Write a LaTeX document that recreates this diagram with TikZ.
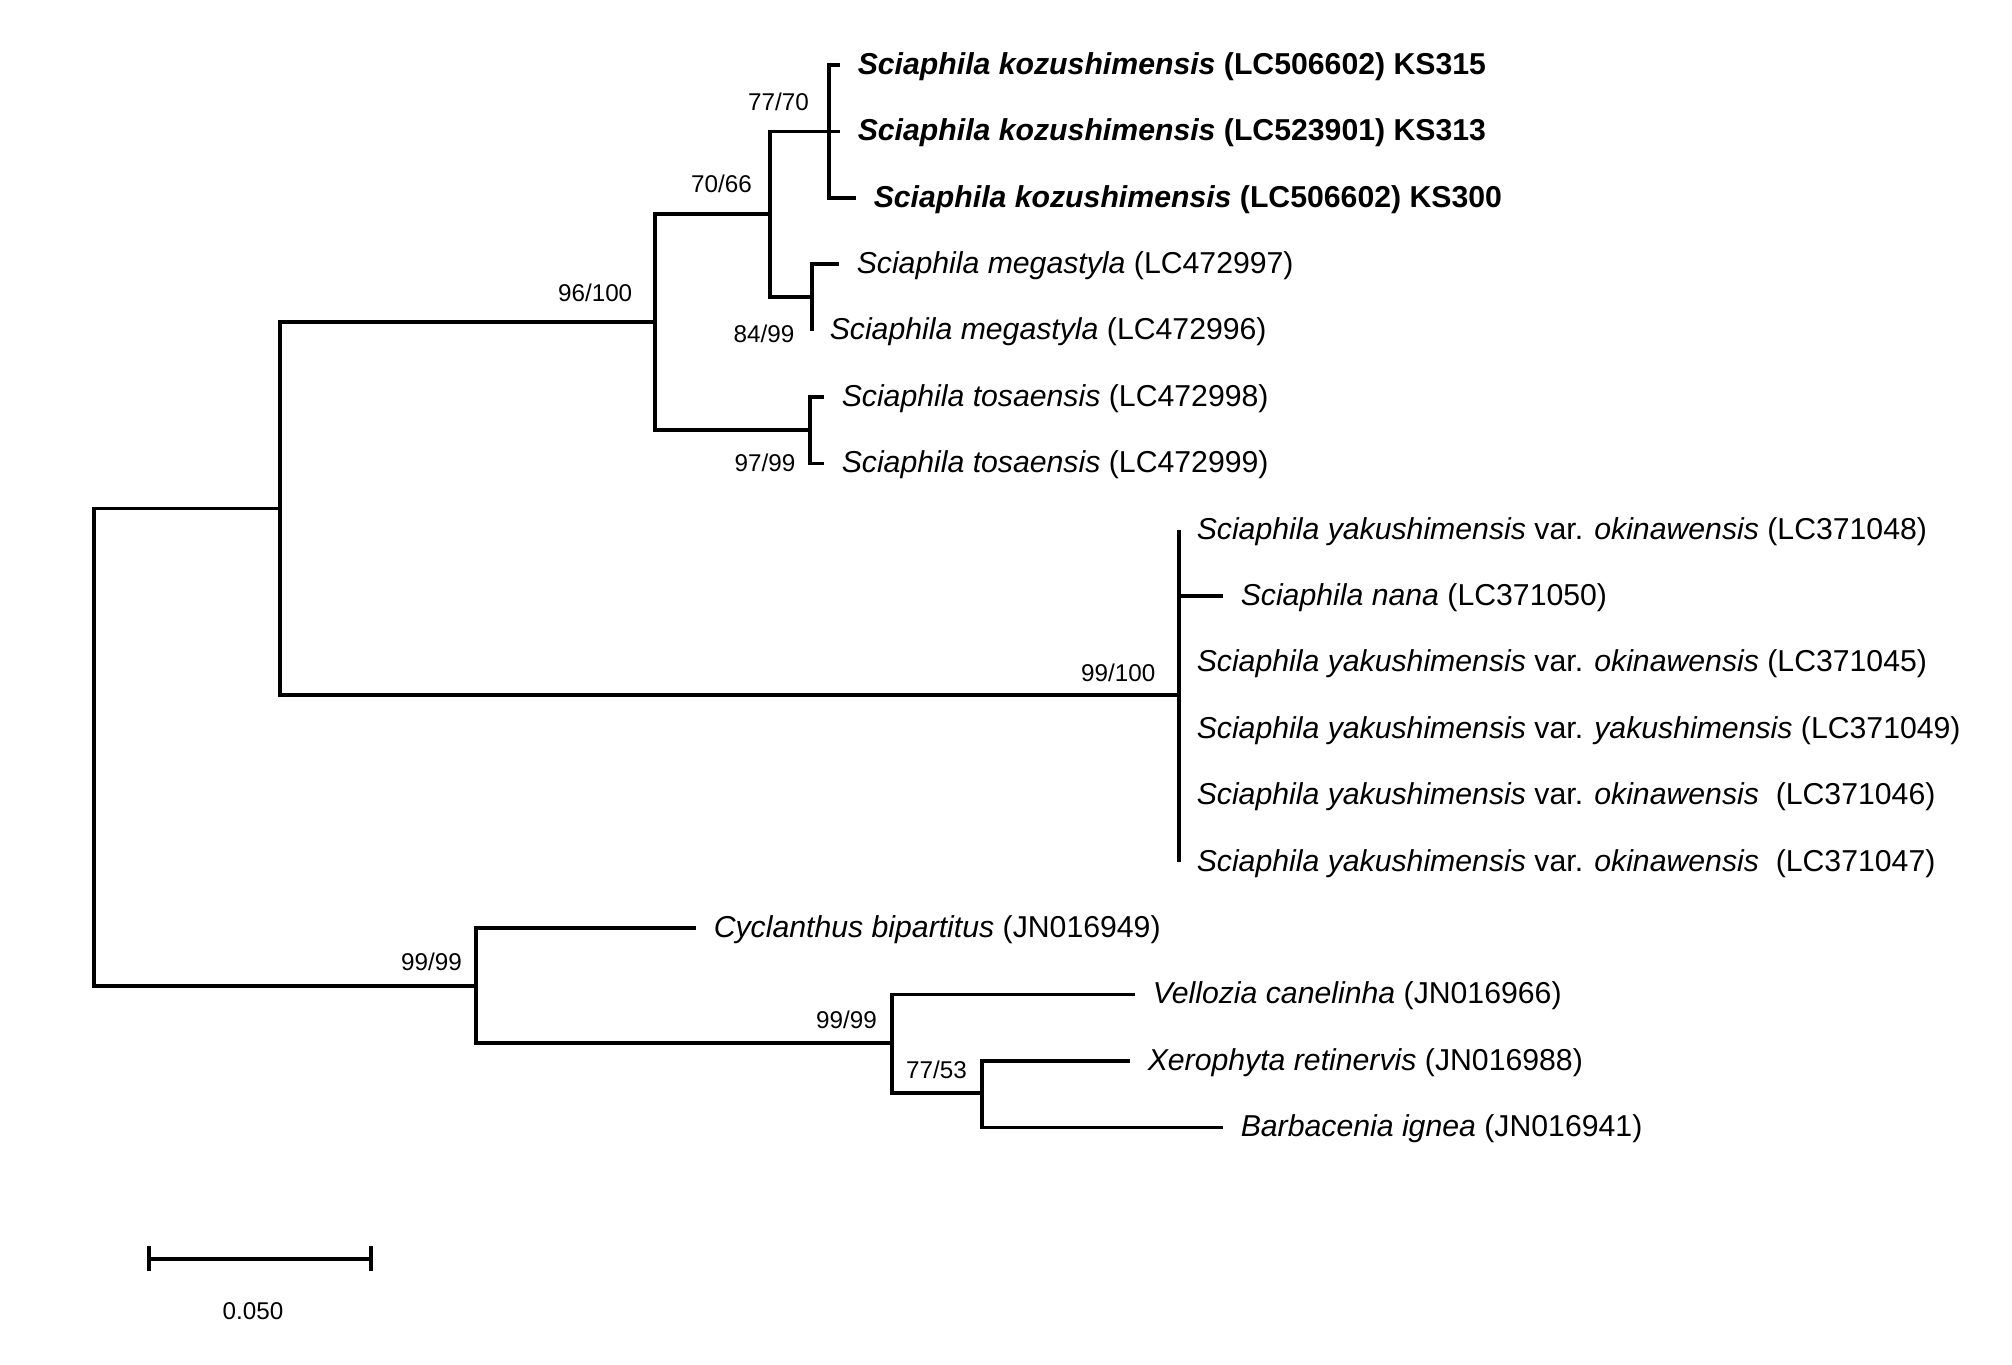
\documentclass[tikz,border=0pt]{standalone}
\usepackage{fontspec}
\setmainfont{Liberation Sans}
\usepackage{tikz}
\usetikzlibrary{positioning}

\begin{document}
\begin{tikzpicture}[x=0.1mm,y=-0.1mm,line width=1pt,
    taxon/.style={anchor=west,inner xsep=1.6mm,inner ysep=0pt,text height=0.53em,text depth=0pt,
      font=\fontsize{8.6}{10}\selectfont},
    supp/.style={inner sep=0pt,text height=0.72em,text depth=0pt,font=\fontsize{6.9}{8}\selectfont}]
    \useasboundingbox (0,0) rectangle (2012,1365);
    % internal nodes
    \coordinate (root) at (94,746);
    \coordinate (sci)  at (280,508.5);
    \coordinate (sciA) at (655,322);
    \coordinate (sciB) at (770,214);
    \coordinate (kozu) at (829,131.4);
    \coordinate (mega) at (812,297);
    \coordinate (tosa) at (810,430);
    \coordinate (yaku) at (1179,695);
    \coordinate (outg) at (476,986);
    \coordinate (vell) at (892,1043);
    \coordinate (xero) at (982,1093);
    % leaves
    \node[taxon] (k315) at (840,65)    {\textbf{\textit{Sciaphila kozushimensis} (LC506602) KS315}};
    \node[taxon] (k313) at (840,131.4) {\textbf{\textit{Sciaphila kozushimensis} (LC523901) KS313}};
    \node[taxon] (k300) at (856,197.8) {\textbf{\textit{Sciaphila kozushimensis} (LC506602) KS300}};
    \node[taxon] (meg1) at (839,264.2) {\textit{Sciaphila megastyla} (LC472997)};
    \node[taxon] (meg2) at (812,330.6) {\textit{Sciaphila megastyla} (LC472996)};
    \node[taxon] (tos1) at (824,397)   {\textit{Sciaphila tosaensis} (LC472998)};
    \node[taxon] (tos2) at (824,463.4) {\textit{Sciaphila tosaensis} (LC472999)};
    \node[taxon] (yak1) at (1179,529.8) {\textit{Sciaphila yakushimensis} var. \textit{okinawensis} (LC371048)};
    \node[taxon] (nana) at (1223,596.2) {\textit{Sciaphila nana} (LC371050)};
    \node[taxon] (yak2) at (1179,662.6) {\textit{Sciaphila yakushimensis} var. \textit{okinawensis} (LC371045)};
    \node[taxon] (yak3) at (1179,729)   {\textit{Sciaphila yakushimensis} var. \textit{yakushimensis} (LC371049)};
    \node[taxon] (yak4) at (1179,795.4) {\textit{Sciaphila yakushimensis} var. \textit{okinawensis}\ \ (LC371046)};
    \node[taxon] (yak5) at (1179,861.8) {\textit{Sciaphila yakushimensis} var. \textit{okinawensis}\ \ (LC371047)};
    \node[taxon] (cycl) at (696,928.2)  {\textit{Cyclanthus bipartitus} (JN016949)};
    \node[taxon] (velc) at (1135,994.6) {\textit{Vellozia canelinha} (JN016966)};
    \node[taxon] (xret) at (1130,1061)  {\textit{Xerophyta retinervis} (JN016988)};
    \node[taxon] (barb) at (1223,1127.4) {\textit{Barbacenia ignea} (JN016941)};
    % branches
    \draw (root) |- (sci);  \draw (root) |- (outg);
    \draw (sci)  |- (sciA); \draw (sci)  |- (yaku);
    \draw (sciA) |- (sciB); \draw (sciA) |- (tosa);
    \draw (sciB) |- (kozu); \draw (sciB) |- (mega);
    \draw (kozu) |- (k315.west); \draw (kozu) -- (k313.west); \draw (kozu) |- (k300.west);
    \draw (mega) |- (meg1.west); \draw (mega) |- (meg2.west);
    \draw (tosa) |- (tos1.west); \draw (tosa) |- (tos2.west);
    \foreach \t in {yak1,nana,yak2,yak3,yak4,yak5} \draw (yaku) |- (\t.west);
    \draw (outg) |- (cycl.west); \draw (outg) |- (vell);
    \draw (vell) |- (velc.west); \draw (vell) |- (xero);
    \draw (xero) |- (xret.west); \draw (xero) |- (barb.west);
    % bootstrap values
    \node[supp,above left=1.9mm and 1.85mm of kozu] (s1) {77/70};
    \node[supp,above left=2.0mm and 1.65mm of sciB] (s2) {70/66};
    \node[supp,below left=1.8mm and 1.6mm of mega] (s3) {84/99};
    \node[supp,above left=1.9mm and 2.1mm of sciA] (s4) {96/100};
    \node[supp,below left=1.4mm and 1.3mm of tosa] (s5) {97/99};
    \node[supp,above left=1.2mm and 2.2mm of yaku] (s6) {99/100};
    \node[supp,above left=1.4mm and 1.25mm of outg] (s7) {99/99};
    \node[supp,above left=1.3mm and 1.35mm of vell] (s8) {99/99};
    \node[supp,above left=1.3mm and 1.35mm of xero] (s9) {77/53};
    % scale bar
    \coordinate (sb0) at (149,1259);
    \coordinate (sb1) at (371,1259);
    \draw (sb0) -- (sb1) node[supp,midway,below=3.3mm,xshift=-0.7mm] (sbl) {0.050};
    \draw (sb0) ++(0,-12.5) -- ++(0,25);
    \draw (sb1) ++(0,-12.5) -- ++(0,25);
\end{tikzpicture}
\end{document}
